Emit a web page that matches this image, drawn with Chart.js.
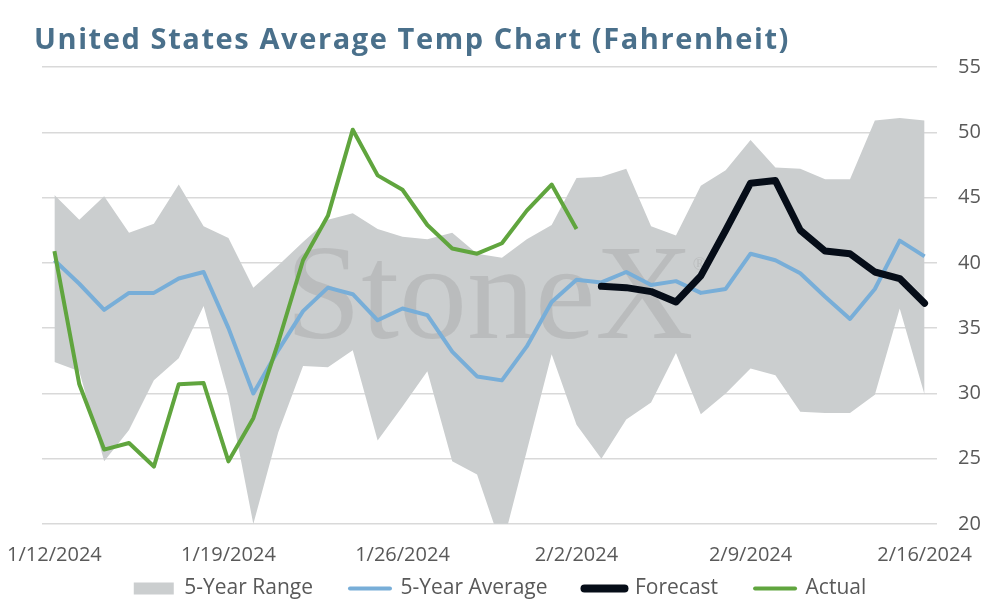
<!DOCTYPE html>
<html>
<head>
<meta charset="utf-8">
<script src="https://cdn.jsdelivr.net/npm/chart.js@4"></script>
<style>
  html, body { margin: 0; padding: 0; background: #fff; }
  #wrap { width: 994px; height: 606px; position: relative; }
</style>
</head>
<body>
<div id="wrap"><canvas id="tempChart"></canvas></div>
<script>
const title = "United States Average Temp Chart (Fahrenheit)";

const dates = [
  "1/12/2024", "1/13/2024", "1/14/2024", "1/15/2024", "1/16/2024", "1/17/2024",
  "1/18/2024", "1/19/2024", "1/20/2024", "1/21/2024", "1/22/2024", "1/23/2024",
  "1/24/2024", "1/25/2024", "1/26/2024", "1/27/2024", "1/28/2024", "1/29/2024",
  "1/30/2024", "1/31/2024", "2/1/2024", "2/2/2024", "2/3/2024", "2/4/2024",
  "2/5/2024", "2/6/2024", "2/7/2024", "2/8/2024", "2/9/2024", "2/10/2024",
  "2/11/2024", "2/12/2024", "2/13/2024", "2/14/2024", "2/15/2024", "2/16/2024"
];

const rangeHigh = [45.2, 43.3, 45.1, 42.3, 43.0, 46.0, 42.8, 41.9, 38.1, 39.8, 41.6, 43.3,
  43.8, 42.6, 42.0, 41.8, 42.3, 40.7, 40.4, 41.8, 42.9, 46.5, 46.6, 47.2,
  42.8, 42.1, 45.9, 47.1, 49.4, 47.3, 47.2, 46.4, 46.4, 50.9, 51.1, 50.9];

const rangeLow = [32.4, 31.7, 24.8, 27.2, 31.0, 32.7, 36.7, 29.8, 20.0, 27.0, 32.1, 32.0,
  33.3, 26.4, 29.0, 31.7, 24.8, 23.8, 18.2, 25.6, 33.0, 27.6, 25.0, 28.0,
  29.3, 33.1, 28.4, 30.0, 31.9, 31.4, 28.6, 28.5, 28.5, 29.9, 36.5, 29.9];

const average = [40.2, 38.4, 36.4, 37.7, 37.7, 38.8, 39.3, 35.0, 30.0, 33.3, 36.3, 38.1,
  37.6, 35.6, 36.5, 36.0, 33.2, 31.3, 31.0, 33.6, 37.0, 38.7, 38.5, 39.3,
  38.3, 38.6, 37.7, 38.0, 40.7, 40.2, 39.2, 37.4, 35.7, 38.0, 41.7, 40.5];

const forecast = [null, null, null, null, null, null, null, null, null, null, null, null,
  null, null, null, null, null, null, null, null, null, null, 38.2, 38.1,
  37.8, 37.0, 39.0, 42.5, 46.1, 46.3, 42.5, 40.9, 40.7, 39.3, 38.8, 36.9];

const actual = [40.9, 30.7, 25.7, 26.2, 24.4, 30.7, 30.8, 24.8, 28.1, 33.9, 40.2, 43.6,
  50.2, 46.7, 45.6, 42.9, 41.1, 40.7, 41.5, 44.0, 46.0, 42.6, null, null,
  null, null, null, null, null, null, null, null, null, null, null, null];

const yTicks = [20, 25, 30, 35, 40, 45, 50, 55];

const GREY = "#cbcecf";
const BLUE = "#78aed8";
const BLACK = "#060d18";
const GREEN = "#60a53e";
const TEXT = "#595959";
const FONT = "'Open Sans', sans-serif";

// title drawn by hand so it can sit a bit left of the plot area
const titlePlugin = {
  id: "pageTitle",
  afterDraw(chart) {
    const ctx = chart.ctx;
    ctx.save();
    ctx.font = "bold 29px 'Open Sans'";
    const w = ctx.measureText(title).width;
    if ("letterSpacing" in ctx) ctx.letterSpacing = ((756 - w) / title.length) + "px";
    ctx.fillStyle = "#4a708b";
    ctx.textBaseline = "alphabetic";
    ctx.fillText(title, 34, 49);
    ctx.restore();
  }
};

// StoneX watermark over the grey band, under the lines
const watermark = {
  id: "watermark",
  afterDatasetDraw(chart, args) {
    if (args.index !== 1) return;
    const a = chart.chartArea;
    const ctx = chart.ctx;
    ctx.save();
    ctx.font = "136px 'Liberation Serif', serif";
    ctx.fillStyle = "rgba(140,140,140,0.26)";
    ctx.textAlign = "center";
    ctx.textBaseline = "alphabetic";
    const cx = (a.left + a.right) / 2;
    const by = (a.top + a.bottom) / 2 + 42;
    ctx.fillText("StoneX", cx, by);
    const w = ctx.measureText("StoneX").width;
    ctx.font = "18px 'Liberation Serif', serif";
    ctx.fillText("\u00AE", cx + w / 2 + 6, by - 68);
    ctx.restore();
  }
};

// nudge the legend to where the original has it
const legendSpot = {
  id: "legendSpot",
  afterLayout(chart) {
    chart.legend.left = 18;
    chart.legend.right = 982;
    chart.legend.top = 541;
  }
};

const legendItems = [
  { text: "5-Year Range", fillStyle: GREY, strokeStyle: GREY, lineWidth: 0, pointStyle: "rect" },
  { text: "5-Year Average", fillStyle: BLUE, strokeStyle: BLUE, lineWidth: 4, lineCap: "round", pointStyle: "line" },
  { text: "Forecast", fillStyle: BLACK, strokeStyle: BLACK, lineWidth: 8, lineCap: "round", pointStyle: "line" },
  { text: "Actual", fillStyle: GREEN, strokeStyle: GREEN, lineWidth: 4, lineCap: "round", pointStyle: "line" }
];

const ctx = document.getElementById("tempChart");

new Chart(ctx, {
  type: "line",
  data: {
    labels: dates,
    datasets: [
      {
        label: "5-Year Range low",
        data: rangeLow,
        borderWidth: 0,
        pointRadius: 0,
        fill: false,
        order: 4
      },
      {
        label: "5-Year Range",
        data: rangeHigh,
        borderWidth: 0,
        pointRadius: 0,
        backgroundColor: GREY,
        fill: "-1",
        order: 3
      },
      {
        label: "5-Year Average",
        data: average,
        borderColor: BLUE,
        borderWidth: 4,
        pointRadius: 0,
        borderJoinStyle: "round",
        order: 2
      },
      {
        label: "Forecast",
        data: forecast,
        borderColor: BLACK,
        borderWidth: 7,
        pointRadius: 0,
        borderJoinStyle: "round",
        borderCapStyle: "round",
        order: 0
      },
      {
        label: "Actual",
        data: actual,
        borderColor: GREEN,
        borderWidth: 4,
        pointRadius: 0,
        borderJoinStyle: "round",
        order: 1
      }
    ]
  },
  options: {
    responsive: true,
    maintainAspectRatio: false,
    animation: false,
    layout: { autoPadding: false, padding: { left: 42, right: 12, top: 67, bottom: 0 } },
    plugins: {
      title: { display: false },
      tooltip: { enabled: false },
      legend: {
        position: "bottom",
        align: "center",
        maxHeight: 44,
        labels: {
          usePointStyle: true,
          pointStyleWidth: 40,
          boxHeight: 12,
          padding: 37,
          color: TEXT,
          font: { family: FONT, size: 21 },
          generateLabels: () => legendItems.map(it => Object.assign({ fontColor: TEXT, hidden: false }, it))
        }
      }
    },
    scales: {
      x: {
        offset: true,
        afterFit: s => {
          s.height = 38;
          s.paddingLeft = 0;
          s.paddingRight = 0;
        },
        grid: { display: false, drawTicks: false },
        border: { display: false },
        ticks: {
          autoSkip: false,
          maxRotation: 0,
          padding: 19,
          color: TEXT,
          font: { family: FONT, size: 20 },
          callback: (v, i) => (i % 7 === 0 ? dates[i] : "")
        }
      },
      y: {
        position: "right",
        min: yTicks[0],
        max: yTicks[yTicks.length - 1],
        afterFit: s => {
          s.width = 45;
          s.paddingTop = 0;
          s.paddingBottom = 0;
        },
        afterBuildTicks: axis => { axis.ticks = yTicks.map(v => ({ value: v })); },
        grid: { color: "#d9d9d9", lineWidth: 1.5, drawTicks: false },
        border: { display: false },
        ticks: {
          padding: 21,
          color: TEXT,
          font: { family: FONT, size: 20 }
        }
      }
    }
  },
  plugins: [titlePlugin, watermark, legendSpot]
});
</script>
</body>
</html>
